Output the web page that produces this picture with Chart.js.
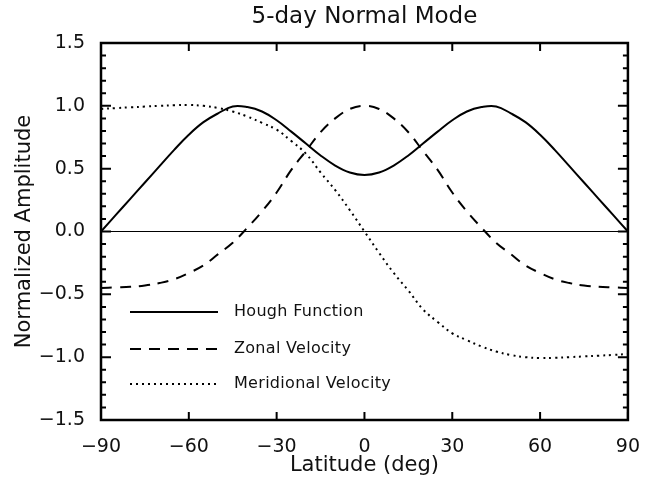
<!DOCTYPE html>
<html lang="en">
  <head>
    <meta charset="UTF-8" />
    <title>5-day Normal Mode</title>
    <script src="https://cdn.jsdelivr.net/npm/chart.js@4"></script>
    <style>
      html, body { margin: 0; padding: 0; background: #fff; }
      #wrap { width: 648px; height: 480px; }
    </style>
  </head>
  <body>
    <div id="wrap"><canvas id="myChart" width="648" height="480"></canvas></div>

    <script>
      // latitude grid (deg) and the three curves
      const lats = [-90, -85, -80, -75, -70, -65, -60, -55, -50, -45, -40, -35, -30, -25, -20, -15, -10, -5, 0,
                    5, 10, 15, 20, 25, 30, 35, 40, 45, 50, 55, 60, 65, 70, 75, 80, 85, 90];
      const hough = [0.00, 0.13, 0.26, 0.39, 0.52, 0.65, 0.77, 0.87, 0.94, 0.995, 0.99, 0.955, 0.885, 0.795, 0.70, 0.605, 0.525, 0.47, 0.45,
                     0.47, 0.525, 0.605, 0.70, 0.795, 0.885, 0.955, 0.99, 0.995, 0.94, 0.87, 0.77, 0.65, 0.52, 0.39, 0.26, 0.13, 0.00];
      const zonal = [-0.45, -0.445, -0.44, -0.43, -0.41, -0.38, -0.33, -0.27, -0.18, -0.09, 0.03, 0.16, 0.31, 0.49, 0.64, 0.79, 0.90, 0.975, 1.00,
                     0.975, 0.90, 0.79, 0.64, 0.49, 0.31, 0.16, 0.03, -0.09, -0.18, -0.27, -0.33, -0.38, -0.41, -0.43, -0.44, -0.445, -0.45];
      const meridional = [0.975, 0.982, 0.988, 0.994, 1.00, 1.005, 1.007, 1.00, 0.983, 0.955, 0.915, 0.865, 0.81, 0.72, 0.62, 0.47, 0.33, 0.17, 0.00,
                          -0.17, -0.33, -0.47, -0.62, -0.72, -0.81, -0.865, -0.915, -0.955, -0.983, -1.00, -1.007, -1.005, -1.00, -0.994, -0.988, -0.982, -0.975];

      const seriesNames = ['Hough Function', 'Zonal Velocity', 'Meridional Velocity'];
      const xTicks = [-90, -60, -30, 0, 30, 60, 90];
      const yTicks = [-1.5, -1.0, -0.5, 0.0, 0.5, 1.0, 1.5];

      const FONT = '"DejaVu Sans", "Liberation Sans", sans-serif';
      const INK = '#000';

      function pts(ys) {
        return lats.map((x, i) => ({ x: x, y: ys[i] }));
      }

      function fmt(v, d) {
        const s = Math.abs(v).toFixed(d);
        return v < 0 ? '\u2212' + s : s;
      }

      // frame, inward ticks, title and in-plot legend (IDL look)
      const idlDecor = {
        id: 'idlDecor',
        afterDraw(chart) {
          const ctx = chart.ctx;
          const a = chart.chartArea;
          const xs = chart.scales.x;
          const ys = chart.scales.y;
          ctx.save();
          ctx.strokeStyle = INK;

          // y ticks: major every 0.5, minor every 0.1
          ctx.lineWidth = 2;
          for (let k = -15; k <= 15; k++) {
            const py = ys.getPixelForValue(k / 10);
            const len = (k % 5 === 0) ? 10 : 5;
            ctx.beginPath();
            ctx.moveTo(a.left, py); ctx.lineTo(a.left + len, py);
            ctx.moveTo(a.right, py); ctx.lineTo(a.right - len, py);
            ctx.stroke();
          }
          // x ticks
          xTicks.forEach(v => {
            const px = xs.getPixelForValue(v);
            ctx.beginPath();
            ctx.moveTo(px, a.bottom); ctx.lineTo(px, a.bottom - 8);
            ctx.moveTo(px, a.top); ctx.lineTo(px, a.top + 8);
            ctx.stroke();
          });

          // frame
          ctx.lineWidth = 2.5;
          ctx.strokeRect(a.left, a.top, a.right - a.left, a.bottom - a.top);

          // title
          ctx.fillStyle = '#111';
          ctx.font = '23px ' + FONT;
          ctx.textAlign = 'center';
          ctx.textBaseline = 'middle';
          ctx.fillText('5-day Normal Mode', (a.left + a.right) / 2, 17);

          // legend
          const rows = [312, 349, 384];
          ctx.font = '16px ' + FONT;
          ctx.textAlign = 'left';
          if ('letterSpacing' in ctx) ctx.letterSpacing = '0.3px';
          chart.data.datasets.forEach((ds, i) => {
            ctx.lineWidth = ds.borderWidth;
            ctx.setLineDash(ds.borderDash || []);
            ctx.beginPath();
            ctx.moveTo(130, rows[i]);
            ctx.lineTo(218, rows[i]);
            ctx.stroke();
            ctx.setLineDash([]);
            ctx.fillText(ds.label, 234, rows[i]);
          });
          ctx.restore();
        }
      };

      const ctx = document.getElementById('myChart').getContext('2d');
      const chart = new Chart(ctx, {
        type: 'line',
        data: {
          datasets: [
            { label: seriesNames[0], data: pts(hough), borderColor: INK, borderWidth: 2, borderDash: [] },
            { label: seriesNames[1], data: pts(zonal), borderColor: INK, borderWidth: 2, borderDash: [11, 8] },
            { label: seriesNames[2], data: pts(meridional), borderColor: INK, borderWidth: 2, borderDash: [2, 4] }
          ]
        },
        options: {
          responsive: false,
          animation: false,
          layout: { padding: { left: 0, right: 16, top: 43, bottom: 0 } },
          elements: {
            point: { radius: 0 },
            line: { tension: 0.4, fill: false }
          },
          plugins: {
            legend: { display: false },
            title: { display: false },
            tooltip: { enabled: false }
          },
          scales: {
            x: {
              type: 'linear',
              min: -90,
              max: 90,
              afterFit: s => { s.height = 60; },
              afterBuildTicks: s => { s.ticks = xTicks.map(v => ({ value: v })); },
              grid: { display: false },
              border: { display: false },
              ticks: {
                color: '#111',
                font: { family: FONT, size: 19 },
                padding: 8,
                maxRotation: 0,
                callback: v => fmt(v, 0)
              },
              title: {
                display: true,
                text: 'Latitude (deg)',
                color: '#111',
                font: { family: FONT, size: 21 },
                padding: { top: 0, bottom: 2 }
              }
            },
            y: {
              min: -1.5,
              max: 1.5,
              afterFit: s => { s.width = 101; },
              afterBuildTicks: s => { s.ticks = yTicks.map(v => ({ value: v })); },
              grid: {
                drawTicks: false,
                lineWidth: 1,
                color: c => (c.tick && c.tick.value === 0) ? INK : 'rgba(0,0,0,0)'
              },
              border: { display: false },
              ticks: {
                color: '#111',
                font: { family: FONT, size: 19 },
                padding: 16,
                callback: v => fmt(v, 1)
              },
              title: {
                display: true,
                text: 'Normalized Amplitude',
                color: '#111',
                font: { family: FONT, size: 21 },
                padding: { top: 12, bottom: 0 }
              }
            }
          }
        },
        plugins: [idlDecor]
      });
    </script>
  </body>
</html>
